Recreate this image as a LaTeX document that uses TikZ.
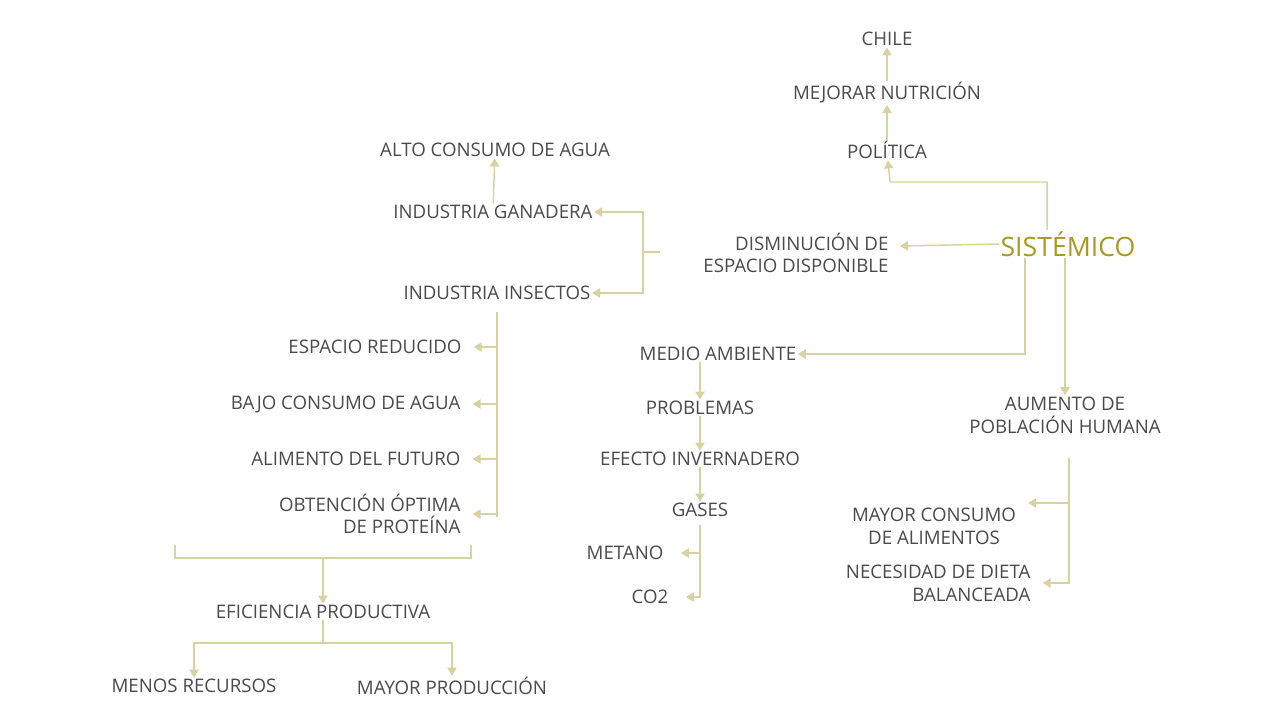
\documentclass[tikz,border=0pt]{standalone}
\usepackage{fontspec}
\setmainfont{Open Sans}
\usetikzlibrary{arrows.meta}
\definecolor{txt}{HTML}{4A4A4A}
\definecolor{gold}{HTML}{A89A1E}
\definecolor{khaki}{HTML}{D8D2A0}
\begin{document}
\begin{tikzpicture}[x=0.75pt,y=-0.75pt,
  lbl/.style={text=txt,font=\fontsize{14}{17}\selectfont,inner sep=1pt,align=center},
  lblr/.style={lbl,align=right},
  link/.style={draw=khaki,line width=1.1pt},
  arr/.style={link,-{Triangle[length=6pt,width=7pt]}}]
\useasboundingbox (0,0) rectangle (1280,719);

% top branch
\node[lbl] (chile) at (887,39) {CHILE};
\node[lbl] (nutri) at (887,93) {MEJORAR NUTRICIÓN};
\node[lbl] (poli) at (887,150) {POLÍTICA};
\node[text=gold,font=\fontsize{20}{24}\selectfont,inner sep=1pt] (sis) at (1068,244) {SISTÉMICO};

% left side
\node[lbl] (agua) at (495,150) {ALTO CONSUMO DE AGUA};
\node[lbl] (gana) at (493,212) {INDUSTRIA GANADERA};
\node[lblr,anchor=east] (disp) at (890,253) {DISMINUCIÓN DE\\ESPACIO DISPONIBLE};
\node[lbl] (inse) at (497,293) {INDUSTRIA INSECTOS};
\node[lbl,anchor=east] (redu) at (463,347) {ESPACIO REDUCIDO};
\node[lbl,anchor=east] (bajo) at (462,404) {BAJO CONSUMO DE AGUA};
\node[lbl,anchor=east] (futu) at (462,459) {ALIMENTO DEL FUTURO};
\node[lblr,anchor=east] (prot) at (462,514) {OBTENCIÓN ÓPTIMA\\DE PROTEÍNA};
\node[lbl] (efic) at (323,612) {EFICIENCIA PRODUCTIVA};
\node[lbl] (meno) at (194,686) {MENOS RECURSOS};
\node[lbl] (mayo) at (452,686) {MAYOR PRODUCCIÓN};

% middle
\node[lbl] (medio) at (718,354) {MEDIO AMBIENTE};
\node[lbl] (prob) at (700,408) {PROBLEMAS};
\node[lbl] (efec) at (700,459) {EFECTO INVERNADERO};
\node[lbl] (gase) at (700,510) {GASES};
\node[lbl] (meta) at (625,553) {METANO};
\node[lbl] (co2) at (650,597) {CO2};

% right
\node[lbl] (pobl) at (1065,415) {AUMENTO DE\\POBLACIÓN HUMANA};
\node[lbl] (cons) at (934,526) {MAYOR CONSUMO\\DE ALIMENTOS};
\node[lblr,anchor=east] (diet) at (1032,583) {NECESIDAD DE DIETA\\BALANCEADA};

% coordinates
\coordinate (dj) at (643,252);
\coordinate (it) at (497,312);
\coordinate (bl) at (175,545);
\coordinate (br) at (471,545);
\coordinate (bm) at (323,558);
\coordinate (gt) at (700,525);
\coordinate (pt) at (1069,458);

% connectors
\draw[arr] (nutri) -- (chile);
\draw[arr] (poli) -- (nutri);
\draw[arr] (sis.north -| 1047,0) |- (890,182) -- (poli);
\draw[arr] (sis.west) -- (900,246);
\draw[arr] (sis.south -| 1025,0) |- (medio);
\draw[arr] (sis.south -| 1065,0) -- (pobl);
\draw[link] (660,252) -- (dj);
\draw[arr] (dj) |- (gana);
\draw[arr] (dj) |- (inse);
\draw[arr] (gana) -- (agua);
\draw[link] (it) -- (497,517);
\foreach \n in {redu,bajo,futu,prot}
  \draw[arr] (it) |- ([xshift=8pt]\n.east);
\draw[link] (bl) -- (175,558) -- (471,558) -- (br);
\draw[arr] (bm) -- (efic);
\draw[link] (efic) -- (323,643);
\draw[arr] (323,643) -| (meno);
\draw[arr] (323,643) -| (mayo);
\draw[arr] (medio.south -| prob) -- (prob);
\draw[arr] (prob) -- (efec);
\draw[arr] (efec) -- (gase);
\draw[arr] (gt) |- ([xshift=12pt]meta.east);
\draw[arr] (gt) |- ([xshift=12pt]co2.east);
\draw[arr] (pt) |- ([xshift=8pt]cons.east |- 0,503);
\draw[arr] (pt) |- ([xshift=8pt]diet.east);
\end{tikzpicture}
\end{document}
